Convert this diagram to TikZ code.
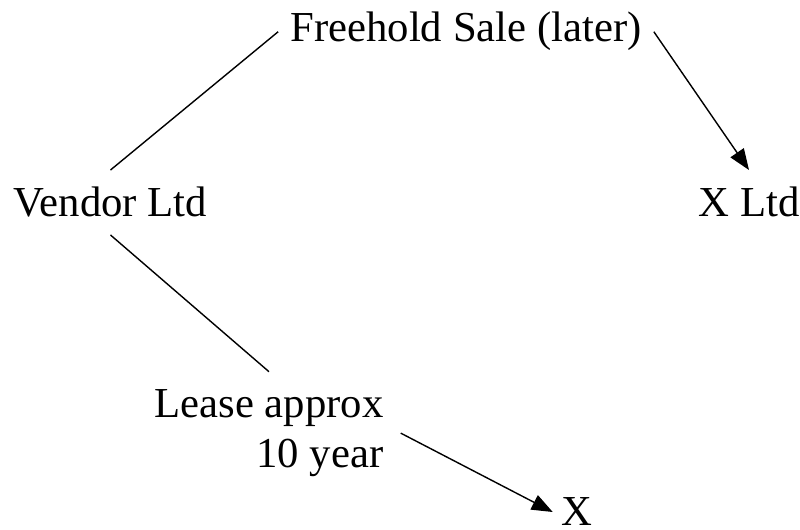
\documentclass[tikz,border=0pt]{standalone}
\usepackage{fontspec}
\setmainfont{Liberation Serif}
\usetikzlibrary{arrows.meta}
\tikzset{
  party/.style={inner sep=0.34cm, font=\fontsize{24.3}{29}\selectfont},
  deal/.style={line width=0.8pt},
  dealarrow/.style={deal, -{Triangle[length=0.42cm,width=0.32cm]}}
}
\begin{document}
\begin{tikzpicture}[x=1cm,y=1cm]
    \useasboundingbox (0,0) rectangle (16,10.6);
    \node[party, anchor=base] (vendor) at (2.21,6.26) {Vendor Ltd};
    \node[party, anchor=base, inner sep=0.24cm] (freehold) at (9.32,9.76) {Freehold Sale (later)};
    \node[party, anchor=base] (xltd) at (14.98,6.26) {X Ltd};
    \node[party, anchor=base, align=right] (lease) at (5.38,1.24) {Lease approx\\10 year};
    \node[party, anchor=base, inner sep=0.16cm] (x) at (11.53,0.08) {X};
    \draw[deal] (vendor.north) -- (freehold.west);
    \draw[dealarrow] (freehold.east) -- (xltd.north);
    \draw[deal] (vendor.south) -- (lease.north);
    \draw[dealarrow] (lease.east) -- (x.west);
  \end{tikzpicture}
\end{document}
